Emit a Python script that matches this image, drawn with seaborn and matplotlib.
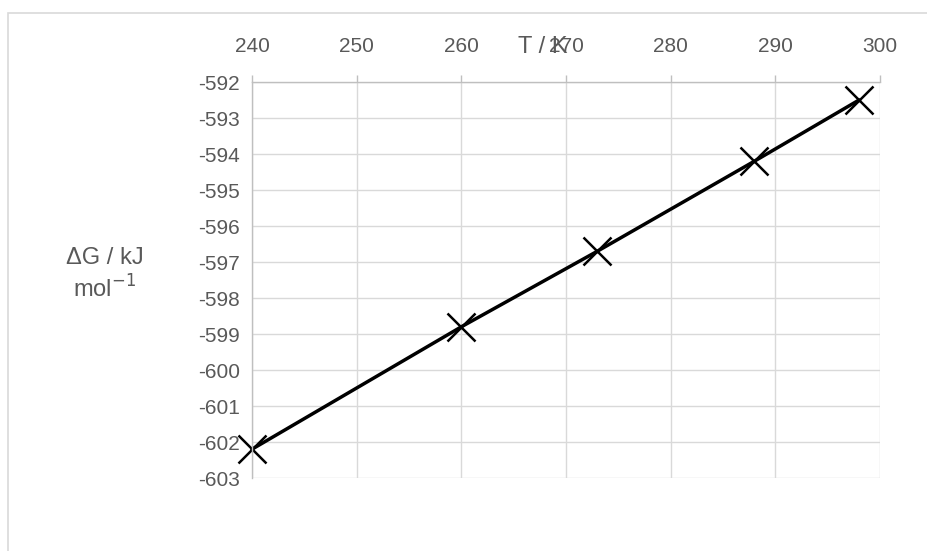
import matplotlib
matplotlib.use("Agg")
import matplotlib.pyplot as plt
import pandas as pd
import seaborn as sns
from matplotlib.patches import Rectangle

# data
temps = [240, 260, 273, 288, 298]
delta_g = [-602.2, -598.8, -596.7, -594.2, -592.5]
x_ticks = [240, 250, 260, 270, 280, 290, 300]
y_ticks = list(range(-603, -591))

df = pd.DataFrame({"T": temps, "dG": delta_g})

sns.set_style("white")
plt.rcParams["font.family"] = ["Liberation Sans", "DejaVu Sans"]
plt.rcParams["axes.unicode_minus"] = False

grey = "#595959"
grid_grey = "#d9d9d9"

fig = plt.figure(figsize=(9.28, 5.51), dpi=100)

# outer chart border
fig.patches.append(Rectangle((8 / 928, -0.2), 1.2, 1.2 - 13 / 551,
                             transform=fig.transFigure, fill=False,
                             edgecolor=grid_grey, linewidth=1.2))

ax = fig.add_axes([252 / 928, 1 - 478 / 551, 628 / 928, 396 / 551])

sns.lineplot(data=df, x="T", y="dG", ax=ax, color="black", linewidth=2.5,
             marker="x", markersize=20, markeredgewidth=1.8,
             markeredgecolor="black", clip_on=False)

ax.set_xlim(240, 300)
ax.set_ylim(-603, -592)
ax.set_xticks(x_ticks)
ax.set_yticks(y_ticks)

ax.xaxis.tick_top()
ax.grid(True, color=grid_grey, linewidth=1)
ax.set_axisbelow(True)

for side in ["right", "bottom"]:
    ax.spines[side].set_visible(False)
for side in ["left", "top"]:
    ax.spines[side].set_color("#bfbfbf")
    ax.spines[side].set_linewidth(1)

ax.tick_params(axis="both", colors="#bfbfbf", labelcolor=grey, labelsize=15,
               length=5, width=1, direction="out")
ax.tick_params(axis="x", pad=14)

# axis titles placed like the original
ax.set_xlabel("")
ax.set_ylabel("")
fig.text(543 / 928, 1 - 47 / 551, "T / K", ha="center", va="center",
         fontsize=17, color=grey)
fig.text(105 / 928, 1 - 275 / 551, "ΔG / kJ\nmol$^{-1}$", ha="center",
         va="center", fontsize=17, color=grey, linespacing=1.3)

fig.savefig("out.png", dpi=100)
